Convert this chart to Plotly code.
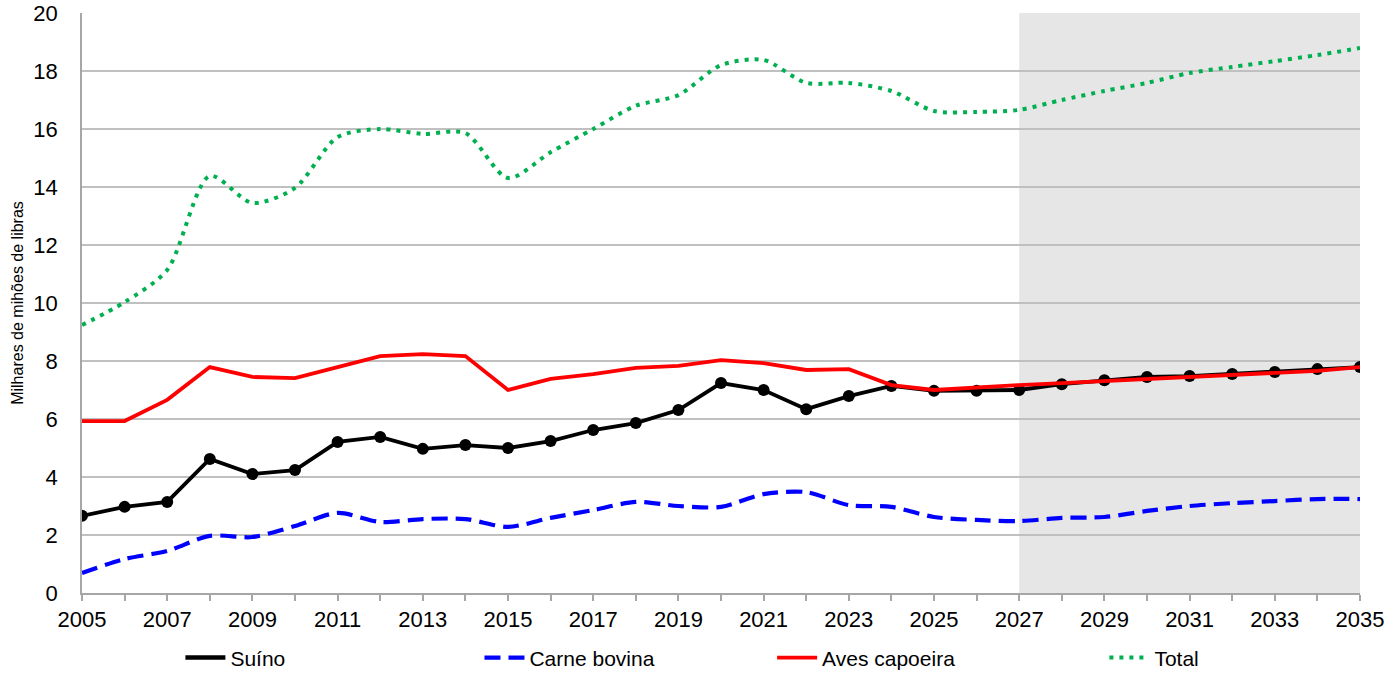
import plotly.graph_objects as go

years = list(range(2005, 2036))
suino = [2.66, 2.97, 3.14, 4.62, 4.10, 4.24, 5.21, 5.38, 4.97, 5.10, 5.00, 5.24, 5.62, 5.86, 6.31,
         7.24, 7.00, 6.34, 6.79, 7.14, 6.97, 6.97, 7.00, 7.20, 7.34, 7.45, 7.48, 7.55, 7.62, 7.72, 7.79]
bovina = [0.69, 1.17, 1.45, 1.97, 1.93, 2.31, 2.76, 2.45, 2.55, 2.55, 2.28, 2.59, 2.86, 3.14, 3.00,
          2.97, 3.41, 3.48, 3.03, 2.97, 2.62, 2.52, 2.48, 2.59, 2.62, 2.83, 3.00, 3.10, 3.17, 3.24, 3.24]
aves = [5.93, 5.93, 6.66, 7.79, 7.45, 7.41, 7.79, 8.17, 8.24, 8.17, 7.00, 7.38, 7.55, 7.76, 7.83,
        8.03, 7.93, 7.69, 7.72, 7.17, 7.00, 7.10, 7.17, 7.24, 7.31, 7.38, 7.45, 7.52, 7.59, 7.66, 7.79]
total = [9.24, 10.03, 11.14, 14.38, 13.45, 13.97, 15.72, 16.00, 15.83, 15.86, 14.31, 15.20, 16.00, 16.80, 17.17,
         18.20, 18.38, 17.59, 17.59, 17.31, 16.62, 16.59, 16.66, 17.00, 17.31, 17.59, 17.93, 18.14, 18.34, 18.55, 18.79]
proj_start, proj_end = 2027, 2035

FONT = "Liberation Sans, Arial, sans-serif"
LEG_Y = -0.112

fig = go.Figure()
fig.add_trace(go.Scatter(x=years, y=suino, name="Suíno", mode="lines+markers", showlegend=False,
                         line=dict(color="black", width=3.8),
                         marker=dict(color="black", size=12)))
fig.add_trace(go.Scatter(x=[None], y=[None], name="Suíno", mode="lines", legend="legend",
                         line=dict(color="black", width=4.5)))
fig.add_trace(go.Scatter(x=years, y=bovina, name="Carne bovina", mode="lines", legend="legend2",
                         line=dict(color="#0000ff", width=4.2, dash="16px,8px", shape="spline", smoothing=0.8)))
fig.add_trace(go.Scatter(x=years, y=aves, name="Aves capoeira", mode="lines", legend="legend3",
                         line=dict(color="#ff0000", width=3.8)))
fig.add_trace(go.Scatter(x=years, y=total, name="Total", mode="lines", legend="legend4",
                         line=dict(color="#00b050", width=4, dash="4px,6px", shape="spline", smoothing=0.8)))

fig.add_shape(type="rect", xref="x", yref="paper", x0=proj_start, x1=proj_end, y0=0, y1=1,
              fillcolor="#e6e6e6", line=dict(width=0), layer="below")

def leg(xpos):
    return dict(orientation="h", x=xpos, y=LEG_Y, xanchor="left", yanchor="middle",
                font=dict(size=21, family=FONT), bgcolor="rgba(0,0,0,0)", itemwidth=40)

fig.update_layout(
    width=1400, height=680,
    margin=dict(l=82, r=40, t=13, b=87, autoexpand=False),
    template="none",
    plot_bgcolor="rgba(0,0,0,0)", paper_bgcolor="white",
    font=dict(family=FONT, color="black"),
    showlegend=True,
    legend=leg(0.077), legend2=leg(0.311), legend3=leg(0.54), legend4=leg(0.80),
    xaxis=dict(range=[2005, 2035], tickmode="array", tickvals=list(range(2005, 2036, 2)),
               ticks="outside", ticklen=6, tickcolor="#a6a6a6", tickwidth=1.5,
               minor=dict(tickvals=years, ticks="outside", ticklen=6, tickcolor="#a6a6a6", tickwidth=1.5),
               showgrid=False, showline=True, linecolor="#a6a6a6", linewidth=1.5,
               tickfont=dict(size=22, family=FONT), zeroline=False, automargin=False,
               ticklabeloverflow="allow"),
    yaxis=dict(range=[0, 20], dtick=2, showgrid=True, gridcolor="#c0c0c0", gridwidth=1.5,
               showline=True, linecolor="#a6a6a6", linewidth=1.5, zeroline=False,
               tickfont=dict(size=22, family=FONT), ticks="outside", ticklen=18,
               tickcolor="rgba(0,0,0,0)", automargin=False, ticklabeloverflow="allow",
               title=dict(text="Milhares de mihões de libras", font=dict(size=16, family=FONT), standoff=6)),
)

fig.write_html("out.html", config={"displayModeBar": False},
               post_script="document.body.style.margin='0px';")
